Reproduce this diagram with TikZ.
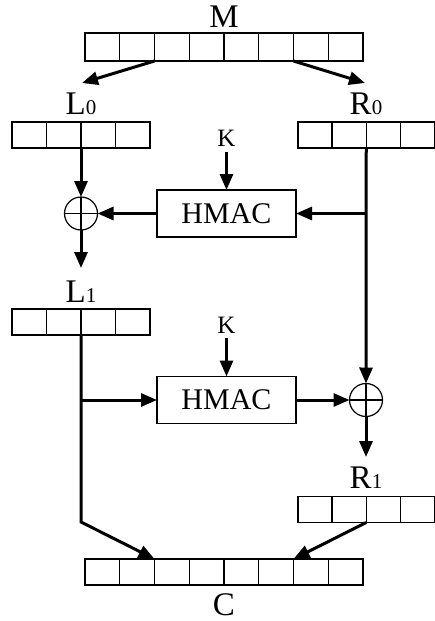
\documentclass[tikz,border=0pt]{standalone}
\usepackage{fontspec}
\setmainfont{Liberation Serif}
\usetikzlibrary{arrows.meta,calc}
\newcommand\dig[1]{{\fontsize{21}{21}\selectfont #1}}
\begin{document}
\begin{tikzpicture}[x=1pt,y=-1pt,
 reg/.style={draw,line width=1.4pt,minimum height=26pt,inner sep=0pt,outer sep=0pt},
 hbox/.style={draw,line width=1.4pt,minimum width=139pt,minimum height=47pt,inner sep=0pt,outer sep=0pt,font=\fontsize{30}{30}\selectfont},
 xor/.style={circle,draw,line width=1.2pt,minimum size=33pt,inner sep=0pt,outer sep=0pt},
 arr/.style={line width=3pt,-{Triangle[length=16pt,width=13pt]}},
 lab/.style={anchor=base,inner sep=0pt,font=\fontsize{33}{33}\selectfont},
 klab/.style={anchor=base,inner sep=0pt,font=\fontsize{25}{25}\selectfont}]
\useasboundingbox (0,0) rectangle (435,621);
% registers
\node[reg,minimum width=278pt,minimum height=28pt] (M) at (224,47) {};
\node[reg,minimum width=138pt] (L0) at (81,135) {};
\node[reg,minimum width=136.5pt] (R0) at (366.25,135) {};
\node[reg,minimum width=138pt] (L1) at (81,322) {};
\node[reg,minimum width=136.5pt] (R1) at (366.25,509.5) {};
\node[reg,minimum width=278pt] (C) at (224,572) {};
\foreach \r in {M,C}{
  \foreach \i in {1,...,7}{
    \draw[line width=1.4pt] ($(\r.north west)!\i/8!(\r.north east)$) -- ($(\r.south west)!\i/8!(\r.south east)$);
  }
}
\foreach \r in {L0,R0,L1,R1}{
  \foreach \i in {1,2,3}{
    \draw[line width=1.4pt] ($(\r.north west)!\i/4!(\r.north east)$) -- ($(\r.south west)!\i/4!(\r.south east)$);
  }
}
% labels
\node[lab] (tM) at (224,27.5) {M};
\node[lab] (tL0) at (81,114) {L\dig{0}};
\node[lab] (tR0) at (366,114) {R\dig{0}};
\node[lab] (tL1) at (81,302) {L\dig{1}};
\node[lab] (tR1) at (366,488) {R\dig{1}};
\node[lab] (tC) at (224,615) {C};
\node[klab] (K1) at (226.5,146) {K};
\node[klab] (K2) at (226.5,333) {K};
% HMAC boxes and XORs
\node[hbox] (H1) at (226.5,213.5) {HMAC};
\node[hbox] (H2) at (226.5,400) {HMAC};
\node[xor] (X1) at (81,213.5) {};
\node[xor] (X2) at (366,400) {};
\draw[line width=1.2pt] (X1.north) -- (X1.south) (X1.west) -- (X1.east);
\draw[line width=1.2pt] (X2.north) -- (X2.south) (X2.west) -- (X2.east);
% coordinates
\coordinate (m2) at ($(M.south west)!0.25!(M.south east)$);
\coordinate (m6) at ($(M.south west)!0.75!(M.south east)$);
\coordinate (c2) at ($(C.north west)!0.25!(C.north east)$);
\coordinate (c6) at ($(C.north west)!0.75!(C.north east)$);
\coordinate (la) at (82,83);
\coordinate (ra) at (365,83);
\coordinate (x1end) at (81,268);
\coordinate (x2end) at (366,457);
\coordinate (jr) at (R0.south |- H1.east);
\coordinate (jl) at (L1.south |- H2.west);
\coordinate (lbend) at (81,522);
\coordinate (k1s) at (226.5,152);
\coordinate (k2s) at (226.5,338);
% connectors
\draw[arr] (m2) -- (la);
\draw[arr] (m6) -- (ra);
\draw[arr] (L0.south) -- (X1.north);
\draw[arr] (k1s) -- (H1.north);
\draw[arr] (R0.south) -- (X2.north);
\draw[arr] (jr) -- (H1.east);
\draw[arr] (H1.west) -- (X1.east);
\draw[arr] (X1.south) -- (x1end);
\draw[arr] (L1.south) -- (lbend) -- (c2);
\draw[arr] (jl) -- (H2.west);
\draw[arr] (k2s) -- (H2.north);
\draw[arr] (H2.east) -- (X2.west);
\draw[arr] (X2.south) -- (x2end);
\draw[arr] (R1.south) -- (c6);
\end{tikzpicture}
\end{document}
